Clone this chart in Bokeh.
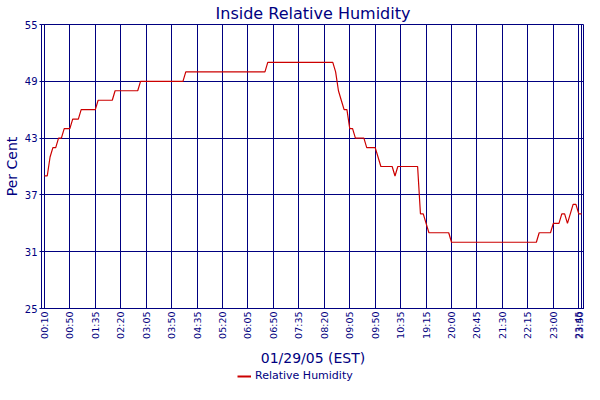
import math
from bokeh.plotting import figure
from bokeh.models import FixedTicker, Legend, LegendItem
from bokeh.layouts import column
from bokeh.embed import file_html
from bokeh.resources import INLINE

# ---- data ----
tick_positions = [0, 9, 18, 27, 36, 45, 54, 63, 72, 81, 90, 99, 108, 117, 126,
                  135, 144, 153, 162, 171, 180, 189, 190]
tick_labels = ["00:10", "00:50", "01:35", "02:20", "03:05", "03:50", "04:35",
               "05:20", "06:05", "06:50", "07:35", "08:20", "09:05", "09:50",
               "10:35", "19:15", "20:00", "20:45", "21:30", "22:15", "23:00",
               "23:45", "23:50"]
y_ticks = [25, 31, 37, 43, 49, 55]

humidity = [
    39, 39, 41, 42, 42, 43, 43, 44, 44, 44,          # 0-9
    45, 45, 45, 46, 46, 46, 46, 46, 46, 47,          # 10-19
    47, 47, 47, 47, 47, 48, 48, 48, 48, 48,          # 20-29
    48, 48, 48, 48, 49, 49, 49, 49, 49, 49,          # 30-39
    49, 49, 49, 49, 49, 49, 49, 49, 49, 49,          # 40-49
    50, 50, 50, 50, 50, 50, 50, 50, 50, 50,          # 50-59
    50, 50, 50, 50, 50, 50, 50, 50, 50, 50,          # 60-69
    50, 50, 50, 50, 50, 50, 50, 50, 50, 51,          # 70-79
    51, 51, 51, 51, 51, 51, 51, 51, 51, 51,          # 80-89
    51, 51, 51, 51, 51, 51, 51, 51, 51, 51,          # 90-99
    51, 51, 51, 50, 48, 47, 46, 46, 44, 44,          # 100-109
    43, 43, 43, 43, 42, 42, 42, 42, 41, 40,          # 110-119
    40, 40, 40, 40, 39, 40, 40, 40, 40, 40,          # 120-129
    40, 40, 40, 35, 35, 34, 33, 33, 33, 33,          # 130-139
    33, 33, 33, 33, 32, 32, 32, 32, 32, 32,          # 140-149
    32, 32, 32, 32, 32, 32, 32, 32, 32, 32,          # 150-159
    32, 32, 32, 32, 32, 32, 32, 32, 32, 32,          # 160-169
    32, 32, 32, 32, 32, 33, 33, 33, 33, 33,          # 170-179
    34, 34, 34, 35, 35, 34, 35, 36, 36, 35,          # 180-189
    35,                                              # 190
]
sample_index = list(range(len(humidity)))
series_name = "Relative Humidity"

NAVY = "#000080"
RED = "#cc0000"
FONT = "DejaVu Sans"

p = figure(width=584, height=368, output_backend="svg", toolbar_location=None,
           x_range=(-1.03, 191.03), y_range=(25, 55),
           title="Inside Relative Humidity",
           min_border_left=0, min_border_right=0, min_border_top=18, min_border_bottom=0,
           background_fill_color="white", border_fill_color="white")

p.title.align = "center"
p.title.text_font = FONT
p.title.text_font_size = "16px"
p.title.text_font_style = "normal"
p.title.text_color = NAVY
p.title.standoff = 3

r = p.line(sample_index, humidity, line_color=RED, line_width=1.2)

p.outline_line_color = NAVY
p.outline_line_width = 1
p.outline_line_alpha = 1

# x axis
xa = p.xaxis[0]
xa.ticker = FixedTicker(ticks=tick_positions)
xa.major_label_overrides = {pos: lab for pos, lab in zip(tick_positions, tick_labels)}
xa.major_label_orientation = math.pi / 2
xa.major_label_text_font = FONT
xa.major_label_text_font_size = "9.5px"
xa.major_label_text_color = NAVY
xa.major_label_standoff = 3
xa.major_tick_out = 0
xa.major_tick_in = 0
xa.minor_tick_out = 0
xa.minor_tick_in = 0
xa.axis_line_color = NAVY
xa.axis_label = "01/29/05 (EST)"
xa.axis_label_text_font = FONT
xa.axis_label_text_font_size = "14px"
xa.axis_label_text_font_style = "normal"
xa.axis_label_text_color = NAVY
xa.axis_label_standoff = 8

# y axis
ya = p.yaxis[0]
ya.ticker = FixedTicker(ticks=y_ticks)
ya.major_label_text_font = FONT
ya.major_label_text_font_size = "10px"
ya.major_label_text_color = NAVY
ya.major_label_standoff = 2
ya.major_tick_out = 2
ya.major_tick_in = 0
ya.minor_tick_out = 0
ya.minor_tick_in = 0
ya.major_tick_line_color = NAVY
ya.axis_line_color = NAVY
ya.axis_label = "Per Cent"
ya.axis_label_text_font = FONT
ya.axis_label_text_font_size = "14px"
ya.axis_label_text_font_style = "normal"
ya.axis_label_text_color = NAVY
ya.axis_label_standoff = 2

# grids
p.xgrid.ticker = FixedTicker(ticks=tick_positions)
p.ygrid.ticker = FixedTicker(ticks=y_ticks)
for g in (p.xgrid[0], p.ygrid[0]):
    g.grid_line_color = NAVY
    g.grid_line_alpha = 1
    g.grid_line_width = 1

# legend strip below the chart (a small figure holding only the legend;
# the same series is drawn there but its range keeps it out of view)
pl = figure(width=584, height=16, output_backend="svg", toolbar_location=None,
            x_axis_location=None, y_axis_location=None,
            x_range=(0, 1), y_range=(1000, 1001),
            min_border_left=0, min_border_right=0, min_border_top=0, min_border_bottom=0,
            background_fill_color="white", border_fill_color="white")
pl.outline_line_color = None
pl.xgrid.visible = False
pl.ygrid.visible = False
key = pl.line(sample_index, humidity, line_color=RED, line_width=2)
legend = Legend(items=[LegendItem(label=series_name, renderers=[key])],
                orientation="horizontal", location=(196, 2),
                border_line_alpha=0, background_fill_alpha=0,
                label_text_font=FONT, label_text_font_size="11px",
                label_text_color=NAVY, glyph_width=14, glyph_height=12,
                label_height=12, label_standoff=4, padding=0, margin=0,
                spacing=0)
pl.add_layout(legend, "center")

layout = column(p, pl, spacing=0)
open("out.html", "w").write(file_html(layout, INLINE))
